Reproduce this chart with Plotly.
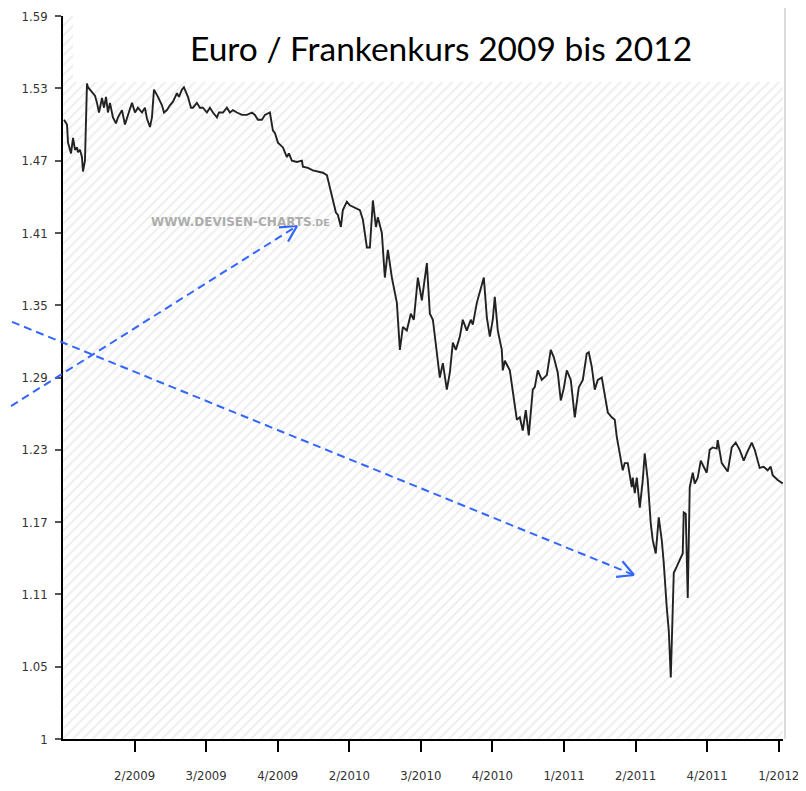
import plotly.graph_objects as go
import math

# ---------------- data ----------------
# x position in "tick units" (tick labels sit at 1..10), y = EUR/CHF rate
X_POS = [0.014, 0.056, 0.070, 0.112, 0.140, 0.168, 0.196, 0.209, 0.237, 0.265,
         0.279, 0.307, 0.335, 0.349, 0.405, 0.447, 0.475, 0.503, 0.545, 0.573,
         0.601, 0.628, 0.656, 0.698, 0.740, 0.768, 0.824, 0.866, 0.908, 0.964,
         1.006, 1.047, 1.103, 1.145, 1.173, 1.215, 1.243, 1.271, 1.327, 1.383,
         1.411, 1.452, 1.494, 1.536, 1.592, 1.620, 1.662, 1.690, 1.718, 1.746,
         1.788, 1.816, 1.871, 1.913, 1.955, 2.011, 2.053, 2.095, 2.151, 2.179,
         2.235, 2.290, 2.332, 2.374, 2.430, 2.500, 2.570, 2.640, 2.681, 2.723,
         2.779, 2.821, 2.891, 2.933, 2.961, 3.003, 3.073, 3.128, 3.156, 3.198,
         3.268, 3.338, 3.352, 3.422, 3.491, 3.561, 3.631, 3.687, 3.729, 3.771,
         3.813, 3.841, 3.883, 3.910, 3.966, 4.008, 4.078, 4.148, 4.190, 4.246,
         4.288, 4.330, 4.372, 4.399, 4.455, 4.497, 4.539, 4.595, 4.665, 4.707,
         4.749, 4.804, 4.860, 4.902, 4.958, 5.014, 5.084, 5.126, 5.168, 5.223,
         5.265, 5.307, 5.363, 5.405, 5.447, 5.489, 5.545, 5.586, 5.642, 5.698,
         5.726, 5.782, 5.838, 5.880, 5.922, 5.964, 6.005, 6.033, 6.075, 6.131,
         6.145, 6.173, 6.243, 6.285, 6.341, 6.383, 6.424, 6.466, 6.508, 6.564,
         6.592, 6.634, 6.690, 6.760, 6.815, 6.857, 6.913, 6.955, 6.997, 7.039,
         7.095, 7.151, 7.207, 7.263, 7.318, 7.346, 7.388, 7.430, 7.472, 7.528,
         7.570, 7.612, 7.668, 7.709, 7.737, 7.779, 7.821, 7.849, 7.891, 7.947,
         7.961, 7.989, 8.017, 8.059, 8.101, 8.128, 8.170, 8.212, 8.240, 8.282,
         8.324, 8.366, 8.394, 8.436, 8.464, 8.492, 8.534, 8.575, 8.617, 8.659,
         8.673, 8.701, 8.729, 8.757, 8.799, 8.827, 8.869, 8.911, 8.952, 8.994,
         9.036, 9.078, 9.134, 9.148, 9.204, 9.288, 9.344, 9.399, 9.455, 9.511,
         9.553, 9.623, 9.665, 9.734, 9.790, 9.846, 9.888, 9.916, 9.986, 10.056]

RATE = [1.504, 1.500, 1.485, 1.476, 1.489, 1.479, 1.481, 1.477, 1.479, 1.473,
        1.461, 1.470, 1.534, 1.531, 1.527, 1.524, 1.518, 1.510, 1.522, 1.514,
        1.523, 1.510, 1.518, 1.506, 1.501, 1.506, 1.512, 1.500, 1.508, 1.518,
        1.510, 1.514, 1.510, 1.514, 1.505, 1.498, 1.506, 1.529, 1.523, 1.516,
        1.510, 1.512, 1.516, 1.519, 1.526, 1.523, 1.529, 1.531, 1.527, 1.523,
        1.514, 1.514, 1.518, 1.514, 1.514, 1.510, 1.514, 1.510, 1.506, 1.510,
        1.510, 1.514, 1.510, 1.512, 1.510, 1.508, 1.508, 1.510, 1.508, 1.504,
        1.504, 1.508, 1.510, 1.495, 1.493, 1.485, 1.481, 1.473, 1.476, 1.470,
        1.469, 1.470, 1.465, 1.464, 1.462, 1.461, 1.460, 1.458, 1.448, 1.437,
        1.427, 1.425, 1.415, 1.429, 1.436, 1.433, 1.431, 1.429, 1.421, 1.398,
        1.398, 1.437, 1.415, 1.423, 1.410, 1.373, 1.396, 1.373, 1.352, 1.313,
        1.332, 1.329, 1.343, 1.338, 1.373, 1.354, 1.385, 1.343, 1.338, 1.310,
        1.290, 1.302, 1.280, 1.294, 1.319, 1.313, 1.324, 1.338, 1.329, 1.338,
        1.334, 1.352, 1.365, 1.373, 1.340, 1.324, 1.338, 1.357, 1.329, 1.313,
        1.296, 1.304, 1.296, 1.280, 1.255, 1.257, 1.246, 1.263, 1.242, 1.280,
        1.282, 1.296, 1.288, 1.292, 1.313, 1.307, 1.294, 1.271, 1.281, 1.296,
        1.288, 1.257, 1.282, 1.288, 1.310, 1.311, 1.299, 1.280, 1.288, 1.290,
        1.274, 1.261, 1.257, 1.255, 1.241, 1.227, 1.213, 1.219, 1.219, 1.199,
        1.207, 1.194, 1.207, 1.182, 1.205, 1.227, 1.205, 1.169, 1.155, 1.144,
        1.174, 1.155, 1.136, 1.099, 1.080, 1.041, 1.128, 1.133, 1.138, 1.144,
        1.178, 1.177, 1.107, 1.199, 1.211, 1.202, 1.207, 1.221, 1.216, 1.211,
        1.230, 1.232, 1.231, 1.238, 1.219, 1.212, 1.232, 1.236, 1.230, 1.221,
        1.227, 1.236, 1.230, 1.215, 1.216, 1.213, 1.216, 1.209, 1.205, 1.202]

TICK_POS = [1, 2, 3, 4, 5, 6, 7, 8, 9, 10]
TICK_LABELS = ["2/2009", "3/2009", "4/2009", "2/2010", "3/2010",
               "4/2010", "1/2011", "2/2011", "4/2011", "1/2012"]
Y_TICKS = [0.99, 1.05, 1.11, 1.17, 1.23, 1.29, 1.35, 1.41, 1.47, 1.53, 1.59]
Y_LABELS = ["1", "1.05", "1.11", "1.17", "1.23", "1.29", "1.35",
            "1.41", "1.47", "1.53", "1.59"]
X_RANGE = [0, 10.06]
Y_RANGE = [0.99, 1.5901]

TITLE = "Euro / Frankenkurs 2009 bis 2012"
WATERMARK = "WWW.DEVISEN-CHARTS<span style='font-size:9.5px'>.DE</span>"

# ---------------- layout geometry ----------------
# the page body adds an 8px margin, so the figure is offset by 8px
OFF = 8
VIEW_W, VIEW_H = 806, 791
W, H = VIEW_W - OFF, VIEW_H - OFF
PLOT_L, PLOT_R, PLOT_T, PLOT_B = 63, 783, 16, 739   # in screenshot pixels
ML, MT = PLOT_L - OFF, PLOT_T - OFF
MR, MB = W - (PLOT_R - OFF), H - (PLOT_B - OFF)
PW, PH = PLOT_R - PLOT_L, PLOT_B - PLOT_T


def px(xp, yp):
    """screenshot pixel position -> paper coordinates"""
    return (xp - PLOT_L) / PW, (PLOT_B - yp) / PH


fig = go.Figure()

# hatched plot background
fig.add_trace(go.Scatter(
    x=[X_RANGE[0], X_RANGE[1], X_RANGE[1], X_RANGE[0], X_RANGE[0]],
    y=[Y_RANGE[0], Y_RANGE[0], Y_RANGE[1], Y_RANGE[1], Y_RANGE[0]],
    mode="lines", line=dict(width=0), fill="toself", fillcolor="white",
    fillpattern=dict(shape="/", fgcolor="#d9d9d9", bgcolor="white",
                     size=7, solidity=0.25),
    hoverinfo="skip", showlegend=False))

# rate line
fig.add_trace(go.Scatter(
    x=X_POS, y=RATE, mode="lines",
    line=dict(color="#222222", width=1.9),
    showlegend=False, name="EUR/CHF"))

shapes = []
# white title box
x0, y0 = px(73, 82)
x1, y1 = px(783, 16)
shapes.append(dict(type="rect", xref="paper", yref="paper", x0=x0, y0=y0,
                   x1=x1, y1=y1, fillcolor="white", line=dict(width=0),
                   layer="above"))
# faint right border
bx, _ = px(785, 0)
shapes.append(dict(type="line", xref="paper", yref="paper", x0=bx, x1=bx,
                   y0=0, y1=px(0, 0)[1], line=dict(color="#dcdcdc", width=2)))

ARROW_COLOR = "#3366ff"


def arrow(tail, tip, arm=18, ang=28):
    tx, ty = tail
    hx, hy = tip
    ax0, ay0 = px(tx, ty)
    ax1, ay1 = px(hx, hy)
    shapes.append(dict(type="line", xref="paper", yref="paper",
                       x0=ax0, y0=ay0, x1=ax1, y1=ay1,
                       line=dict(color=ARROW_COLOR, width=2, dash="8px,5px")))
    dx, dy = tx - hx, ty - hy
    L = math.hypot(dx, dy)
    ux, uy = dx / L, dy / L
    for s in (1, -1):
        a = math.radians(ang) * s
        rx = ux * math.cos(a) - uy * math.sin(a)
        ry = ux * math.sin(a) + uy * math.cos(a)
        ex, ey = px(hx + arm * rx, hy + arm * ry)
        shapes.append(dict(type="line", xref="paper", yref="paper",
                           x0=ax1, y0=ay1, x1=ex, y1=ey,
                           line=dict(color=ARROW_COLOR, width=2.2)))


arrow((0, 413), (297, 226))
arrow((0, 317), (634, 575))

tx, ty = px(441, 48)
wx, wy = px(240, 222)
annotations = [
    dict(text=TITLE, xref="paper", yref="paper", x=tx, y=ty,
         showarrow=False, xanchor="center", yanchor="middle",
         font=dict(family="Lato, Open Sans, sans-serif", size=33.5, color="#000000")),
    dict(text="<b>" + WATERMARK + "</b>", xref="paper", yref="paper", x=wx, y=wy,
         showarrow=False, xanchor="center", yanchor="middle",
         font=dict(family="DejaVu Sans, sans-serif", size=12, color="#adadad")),
]

TICK_FONT = dict(family="DejaVu Sans Condensed, Liberation Sans Narrow, DejaVu Sans, sans-serif",
                 size=13, color="#333333")

fig.update_layout(
    width=W, height=H,
    margin=dict(l=ML, r=MR, t=MT, b=MB, pad=0, autoexpand=False),
    paper_bgcolor="white", plot_bgcolor="white",
    shapes=shapes, annotations=annotations,
    xaxis=dict(range=X_RANGE, showgrid=False, zeroline=False, automargin=False,
               showline=True, linecolor="#000000", linewidth=2,
               ticks="outside", ticklen=11, tickwidth=1.5, tickcolor="#000000",
               tickvals=TICK_POS, ticktext=TICK_LABELS, tickfont=TICK_FONT,
               ticklabelstandoff=12),
    yaxis=dict(range=Y_RANGE, showgrid=False, zeroline=False, automargin=False,
               showline=True, linecolor="#000000", linewidth=1.5,
               ticks="outside", ticklen=6, tickwidth=2, tickcolor="#555555",
               tickvals=Y_TICKS, ticktext=Y_LABELS, tickfont=TICK_FONT,
               ticklabelstandoff=5),
)

fig.write_html("out.html")
